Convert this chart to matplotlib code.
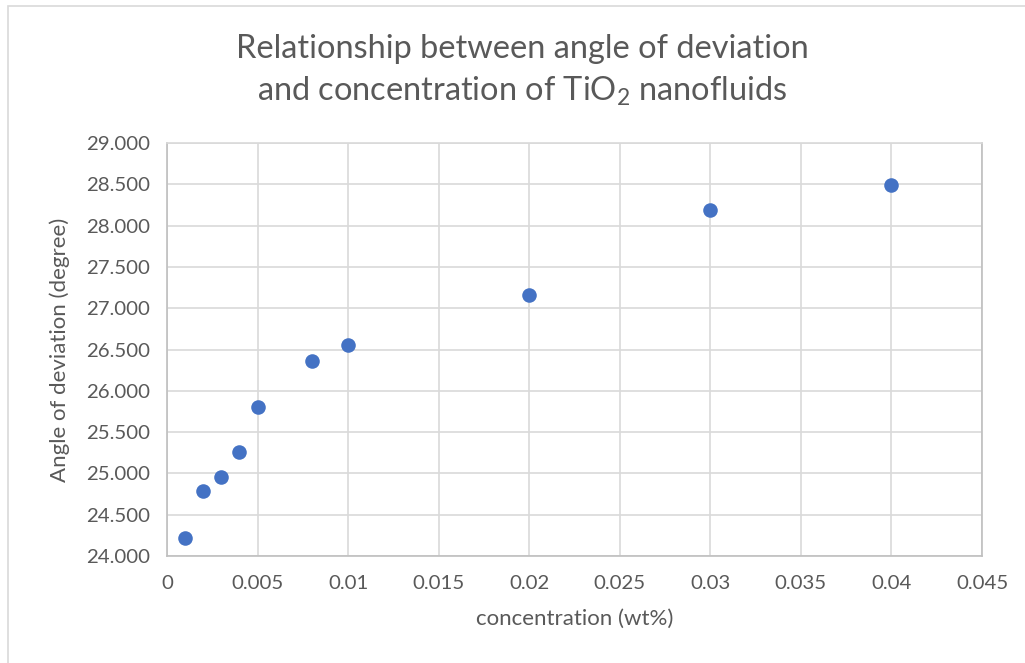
import matplotlib
matplotlib.use('Agg')
import matplotlib.pyplot as plt
import numpy as np

# data
concentration = [0.001, 0.002, 0.003, 0.004, 0.005, 0.008, 0.01, 0.02, 0.03, 0.04]
angle = [24.22, 24.79, 24.96, 25.26, 25.80, 26.36, 26.55, 27.16, 28.19, 28.49]
xticks = [0, 0.005, 0.01, 0.015, 0.02, 0.025, 0.03, 0.035, 0.04, 0.045]
xticklabels = ['0', '0.005', '0.01', '0.015', '0.02', '0.025', '0.03', '0.035', '0.04', '0.045']
yticks = np.arange(24.0, 29.01, 0.5)

plt.rcParams['font.family'] = ['Lato', 'DejaVu Sans']
plt.rcParams['mathtext.fontset'] = 'custom'
plt.rcParams['mathtext.rm'] = 'Lato'

text_col = '#595959'
grid_col = '#d9d9d9'
spine_col = '#bfbfbf'

fig = plt.figure(figsize=(10.25, 6.63), dpi=100)
ax = fig.add_axes([167/1025, 1 - 556/663, (982-167)/1025, (556-143)/663])

# light frame around the chart area (cut off at right/bottom)
fig.add_artist(plt.Rectangle((8/1025, -0.1), 1.2, 1 - 6/663 + 0.1,
                             transform=fig.transFigure, fill=False,
                             edgecolor=grid_col, linewidth=1.2))

ax.scatter(concentration, angle, s=110, color='#4472C4', zorder=3, linewidths=0)

ax.set_xlim(0, 0.045)
ax.set_ylim(24, 29)
ax.set_xticks(xticks)
ax.set_xticklabels(xticklabels)
ax.set_yticks(yticks)
ax.set_yticklabels(['%.3f' % v for v in yticks])

ax.grid(True, color=grid_col, linewidth=1.2)
ax.set_axisbelow(True)
for side in ['left', 'bottom', 'right']:
    ax.spines[side].set_color(spine_col)
    ax.spines[side].set_linewidth(1.2)
ax.spines['top'].set_color(grid_col)
ax.spines['top'].set_linewidth(1.2)
ax.tick_params(length=0, labelsize=14.7, colors=text_col)
ax.tick_params(axis='x', pad=14)
ax.tick_params(axis='y', pad=12)

ax.set_xlabel('concentration (wt%)', fontsize=16, color=text_col, labelpad=12)
ax.set_ylabel('Angle of deviation (degree)', fontsize=16, color=text_col, labelpad=12)

fig.text(522/1025, 1 - 71/663,
         'Relationship between angle of deviation\nand concentration of TiO$\\mathregular{_2}$ nanofluids',
         ha='center', va='center', fontsize=23.4, color=text_col, linespacing=1.42)

plt.savefig('out.png', dpi=100)
